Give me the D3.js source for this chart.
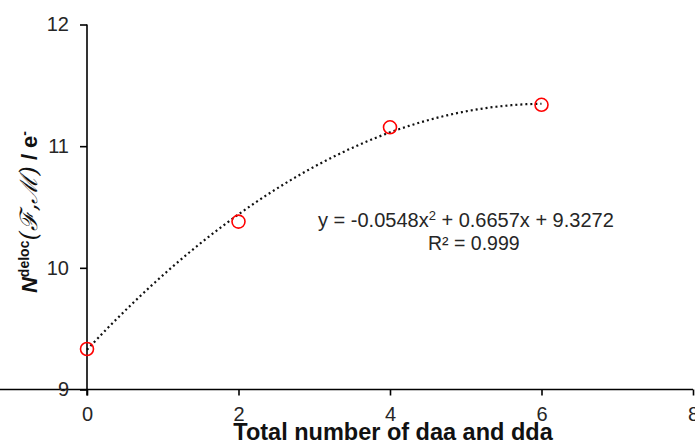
<!DOCTYPE html>
<html>
<head>
<meta charset="utf-8">
<script src="https://cdn.jsdelivr.net/npm/d3@7"></script>
<style>
  body { margin: 0; background: #fff; }
  text { font-family: "Liberation Sans", Arial, sans-serif; }
</style>
</head>
<body>
<svg id="plot" width="695" height="443"></svg>
<script>
// data
const COUNTS = [0, 2, 4, 6];
const NDELOC = [9.333, 10.38, 11.155, 11.34];
const X_TICKS = [0, 2, 4, 6, 8];
const Y_TICKS = [9, 10, 11, 12];
// trendline coefficients (a x^2 + b x + c) as printed on the chart
const FIT = [-0.0548, 0.6657, 9.3272];
const FIT_RANGE = [0, 6];

const svg = d3.select('#plot');
const x = d3.scaleLinear().domain([0, 8]).range([87, 693]);
const y = d3.scaleLinear().domain([9, 12]).range([389.5, 24.5]);

// trendline
const fitPts = d3.range(FIT_RANGE[0], FIT_RANGE[1] + 0.001, 0.05)
  .map(v => [v, FIT[0] * v * v + FIT[1] * v + FIT[2]]);
svg.append('path')
  .datum(fitPts)
  .attr('d', d3.line().x(d => x(d[0])).y(d => y(d[1])))
  .attr('fill', 'none')
  .attr('stroke', '#111')
  .attr('stroke-width', 2.2)
  .attr('stroke-dasharray', '2,3');

// axes
const xAxis = svg.append('g')
  .attr('transform', `translate(0,${y(9)})`)
  .call(d3.axisBottom(x).tickValues(X_TICKS).tickFormat(d3.format('d')).tickSize(6).tickPadding(11));
const yAxis = svg.append('g')
  .attr('transform', `translate(${x(0)},0)`)
  .call(d3.axisLeft(y).tickValues(Y_TICKS).tickFormat(d3.format('d')).tickSize(7).tickPadding(11));
[xAxis, yAxis].forEach(g => {
  g.select('.domain').attr('stroke', '#000').attr('stroke-width', 1.6);
  g.selectAll('.tick line').attr('stroke', '#000').attr('stroke-width', 1.6);
  g.selectAll('.tick text')
    .attr('fill', '#262626')
    .style('font-size', '20px')
    .style('font-family', '"Liberation Sans", Arial, sans-serif');
});
yAxis.select('.domain').attr('d', `M0,${y(9) + 6}V${y(12)}`);
xAxis.select('.domain').attr('d', `M0,0H${x(8)}`);

// points
svg.selectAll('circle.pt')
  .data(COUNTS.map((c, i) => ({ c, v: NDELOC[i] })))
  .enter()
  .append('circle')
    .attr('class', 'pt')
    .attr('cx', d => x(d.c))
    .attr('cy', d => y(d.v))
    .attr('r', 6.5)
    .attr('fill', 'none')
    .attr('stroke', '#ff0000')
    .attr('stroke-width', 1.6);

// equation
const eq = svg.append('text')
  .attr('x', 318).attr('y', 226.5)
  .style('font-size', '20px')
  .attr('fill', '#262626');
eq.append('tspan').text('y = -0.0548x');
eq.append('tspan').attr('dy', -7).style('font-size', '13px').text('2');
eq.append('tspan').attr('dy', 7).text(' + 0.6657x + 9.3272');
svg.append('text')
  .attr('x', 428).attr('y', 250)
  .style('font-size', '19.5px')
  .attr('fill', '#262626')
  .text('R² = 0.999');

// x title
svg.append('text')
  .attr('x', 393).attr('y', 440)
  .attr('text-anchor', 'middle')
  .style('font-size', '23.5px')
  .style('font-weight', 'bold')
  .attr('fill', '#111')
  .text('Total number of daa and dda');

// y title
const yt = svg.append('text')
  .attr('transform', 'translate(37,212) rotate(-90)')
  .attr('text-anchor', 'middle')
  .style('font-size', '22px')
  .style('font-weight', 'bold')
  .attr('fill', '#111');
yt.append('tspan').style('font-style', 'italic').text('N');
yt.append('tspan').attr('dy', -8).style('font-size', '14px').text('deloc');
yt.append('tspan').attr('dy', 8)
  .style('font-weight', 'normal')
  .style('font-family', '"DejaVu Serif", serif')
  .style('font-style', 'italic')
  .style('font-size', '24px')
  .text('(ℱ,ℳ)');
yt.append('tspan').text(' / e');
yt.append('tspan').attr('dy', -8).style('font-size', '14px').text('-');
</script>
</body>
</html>
